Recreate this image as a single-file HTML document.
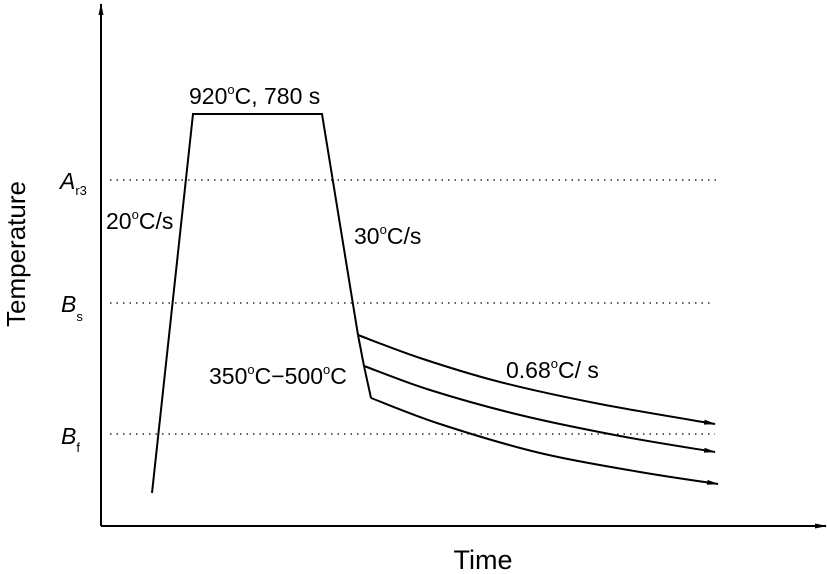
<!DOCTYPE html>
<html><head><meta charset="utf-8"><style>
body{margin:0;background:#fff}
svg{display:block;font-family:"Liberation Sans",Arial,sans-serif}
</style></head><body>
<svg id="c" width="827" height="574" viewBox="0 0 827 574">
<defs><marker id="ah" markerWidth="12" markerHeight="6" refX="11" refY="3" orient="auto" markerUnits="userSpaceOnUse"><path d="M0,0.5 L12,3 L0,5.5 Z" fill="#000"/></marker></defs>
<g id="axes"></g>
<g id="marks"></g>
<text x="483" y="569" font-size="27" text-anchor="middle">Time</text>
<text transform="translate(25,254) rotate(-90)" font-size="26" text-anchor="middle">Temperature</text>
<text x="189" y="104" font-size="23">920<tspan dy="-10" font-size="13">o</tspan><tspan dy="10">C, 780 s</tspan></text>
<text x="106" y="229" font-size="23">20<tspan dy="-10" font-size="13">o</tspan><tspan dy="10">C/s</tspan></text>
<text x="354" y="244" font-size="23">30<tspan dy="-10" font-size="13">o</tspan><tspan dy="10">C/s</tspan></text>
<text x="209" y="384" font-size="23">350<tspan dy="-10" font-size="13">o</tspan><tspan dy="10">C−500</tspan><tspan dy="-10" font-size="13">o</tspan><tspan dy="10">C</tspan></text>
<text x="506" y="378" font-size="23">0.68<tspan dy="-10" font-size="13">o</tspan><tspan dy="10">C/ s</tspan></text>
<text x="60" y="189" font-size="23" font-style="italic">A<tspan dy="6" font-size="13" font-style="normal">r3</tspan></text>
<text x="61" y="312" font-size="23" font-style="italic">B<tspan dy="9" font-size="13" font-style="normal">s</tspan></text>
<text x="61" y="444" font-size="23" font-style="italic">B<tspan dy="8" font-size="13" font-style="normal">f</tspan></text>
</svg>
<script>
// chart units: time offset from y-axis, temperature height above x-axis
const pathTime = [51, 92, 221, 257];
const pathTemp = [33, 412, 412, 191];
const branchStartTime = [257, 263, 270];
const branchStartTemp = [191, 160, 128];
const curve1Time = [257, 319, 399, 499, 614];
const curve1Temp = [191, 168, 144, 122, 102];
const curve2Time = [263, 329, 419, 519, 614];
const curve2Temp = [160, 136, 111, 90, 74];
const curve3Time = [270, 339, 439, 539, 617];
const curve3Temp = [128, 102, 73, 54, 42];
const refNames = ['ar3', 'bs', 'bf'];
const refTemp = [346, 223, 92];
const refEndTime = [615, 609, 614];

const ox = 101, oy = 526;
const X = t => ox + t;
const Y = T => oy - T;
const NS = 'http://www.w3.org/2000/svg';
const axes = document.getElementById('axes'), marks = document.getElementById('marks');
function mk(tag, attrs, parent){const e=document.createElementNS(NS,tag);for(const k in attrs)e.setAttribute(k,attrs[k]);parent.appendChild(e);return e;}

let ya = mk('line',{x1:ox,y1:oy,x2:ox,y2:4,stroke:'#000','stroke-width':2,'marker-end':'url(#ah)'},axes);


let xa = mk('line',{x1:ox,y1:oy,x2:826,y2:oy,stroke:'#000','stroke-width':2,'marker-end':'url(#ah)'},axes);



refTemp.forEach((T,i)=>{
  const l = mk('line',{x1:X(9),y1:Y(T),x2:X(refEndTime[i]),y2:Y(T),stroke:'#000','stroke-width':1.3,'stroke-dasharray':'1.5 5'},axes);
  
  
});

const pd = pathTime.map((t,i)=>(i?'L':'M')+X(t)+','+Y(pathTemp[i])).join(' ');
const p = mk('path',{d:pd,fill:'none',stroke:'#000','stroke-width':2},marks);



for(let i=1;i<branchStartTime.length;i++){
  const s = mk('line',{x1:X(branchStartTime[i-1]),y1:Y(branchStartTemp[i-1]),x2:X(branchStartTime[i]),y2:Y(branchStartTemp[i]),stroke:'#000','stroke-width':2},marks);
  
  
}

function spline(ts, Ts){
  const P = ts.map((t,i)=>[X(t),Y(Ts[i])]);
  let d = 'M'+P[0][0]+','+P[0][1];
  for(let i=0;i<P.length-1;i++){
    const p0=P[Math.max(0,i-1)], p1=P[i], p2=P[i+1], p3=P[Math.min(P.length-1,i+2)];
    const c1=[p1[0]+(p2[0]-p0[0])/6, p1[1]+(p2[1]-p0[1])/6];
    const c2=[p2[0]-(p3[0]-p1[0])/6, p2[1]-(p3[1]-p1[1])/6];
    d+=` C${c1[0]},${c1[1]} ${c2[0]},${c2[1]} ${p2[0]},${p2[1]}`;
  }
  return d;
}
[[curve1Time,curve1Temp],[curve2Time,curve2Temp],[curve3Time,curve3Temp]].forEach((c,i)=>{
  const e = mk('path',{d:spline(c[0],c[1]),fill:'none',stroke:'#000','stroke-width':2,'marker-end':'url(#ah)'},marks);
  
  
});
</script>
</body></html>
